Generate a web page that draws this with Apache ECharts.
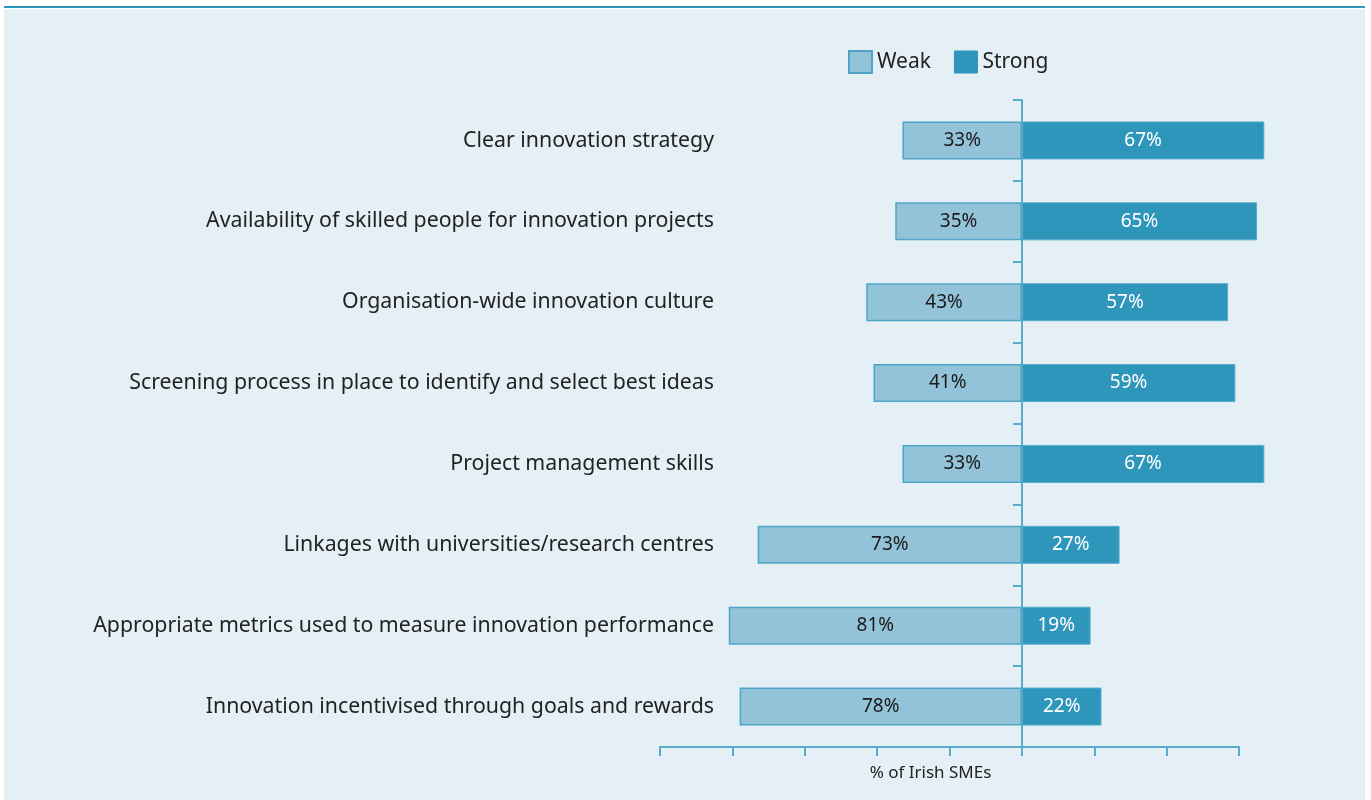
<!DOCTYPE html>
<html>
<head>
<meta charset="utf-8">
<script src="https://cdn.jsdelivr.net/npm/echarts@6/dist/echarts.min.js"></script>
<style>
html,body{margin:0;padding:0;background:#ffffff;}
#chart{width:1371px;height:800px;}
</style>
</head>
<body>
<div id="chart"></div>
<script>
const categories = [
  "Clear innovation strategy",
  "Availability of skilled people for innovation projects",
  "Organisation-wide innovation culture",
  "Screening process in place to identify and select best ideas",
  "Project management skills",
  "Linkages with universities/research centres",
  "Appropriate metrics used to measure innovation performance",
  "Innovation incentivised through goals and rewards"
];
const weakValues = [33, 35, 43, 41, 33, 73, 81, 78];
const strongValues = [67, 65, 57, 59, 67, 27, 19, 22];
const seriesNames = ["Weak", "Strong"];
const axisName = "% of Irish SMEs";

const FONT = "Noto Sans";
const chart = echarts.init(document.getElementById('chart'));
const option = {
  animation: false,
  textStyle: {fontFamily: FONT},
  graphic: [
    {type: 'rect', z: -10, silent: true, shape: {x: 4, y: 9, width: 1361, height: 791}, style: {fill: '#e4f0f5'}},
    {type: 'rect', z: -10, silent: true, shape: {x: 4, y: 6, width: 1361, height: 2}, style: {fill: '#2e96bb'}}
  ],
  legend: {
    data: [
      {name: seriesNames[0], itemStyle: {color: '#93c3d8', borderColor: '#4ea5c8', borderWidth: 2}},
      {name: seriesNames[1], itemStyle: {color: '#2e96bb', borderColor: '#2e96bb', borderWidth: 1}}
    ],
    icon: 'rect',
    left: 843,
    top: 45,
    itemWidth: 23,
    itemHeight: 22,
    itemGap: 23,
    textStyle: {fontFamily: FONT, fontSize: 21, color: '#222222', padding: [0, 0, 0, 0]}
  },
  grid: {left: 660, right: 132, top: 100, bottom: 53, containLabel: false, outerBoundsMode: 'none'},
  xAxis: {
    type: 'value',
    min: -100,
    max: 60,
    interval: 20,
    name: axisName,
    nameLocation: 'middle',
    nameGap: 18,
    nameTextStyle: {fontFamily: FONT, fontSize: 17, color: '#222222', padding: [0, 38, 0, 0]},
    axisLine: {show: true, lineStyle: {color: '#5aaccc', width: 2}},
    axisTick: {show: true, length: 9, lineStyle: {color: '#5aaccc', width: 2}},
    axisLabel: {show: false},
    splitLine: {show: false}
  },
  yAxis: {
    type: 'category',
    data: categories,
    inverse: true,
    axisLine: {show: true, onZero: true, lineStyle: {color: '#5aaccc', width: 2}},
    axisTick: {show: true, length: 9, lineStyle: {color: '#5aaccc', width: 2}},
    axisLabel: {margin: -54, fontFamily: FONT, fontSize: 21.3, color: '#222222'},
    splitLine: {show: false}
  },
  series: [
    {
      name: seriesNames[0],
      type: 'bar',
      stack: 'total',
      barWidth: 38,
      clip: false,
      data: weakValues.map(v => -v),
      itemStyle: {color: '#93c3d8', borderColor: '#4ea5c8', borderWidth: 1.5},
      label: {show: true, position: 'inside', formatter: p => Math.abs(p.value) + '%', fontFamily: FONT, fontSize: 19, color: '#1a1a1a'}
    },
    {
      name: seriesNames[1],
      type: 'bar',
      stack: 'total',
      barWidth: 38,
      clip: false,
      data: strongValues,
      itemStyle: {color: '#2e96bb', borderColor: '#5aaccc', borderWidth: 1},
      label: {show: true, position: 'inside', formatter: p => p.value + '%', fontFamily: FONT, fontSize: 19, color: '#ffffff'}
    }
  ]
};
chart.setOption(option);
</script>
</body>
</html>
